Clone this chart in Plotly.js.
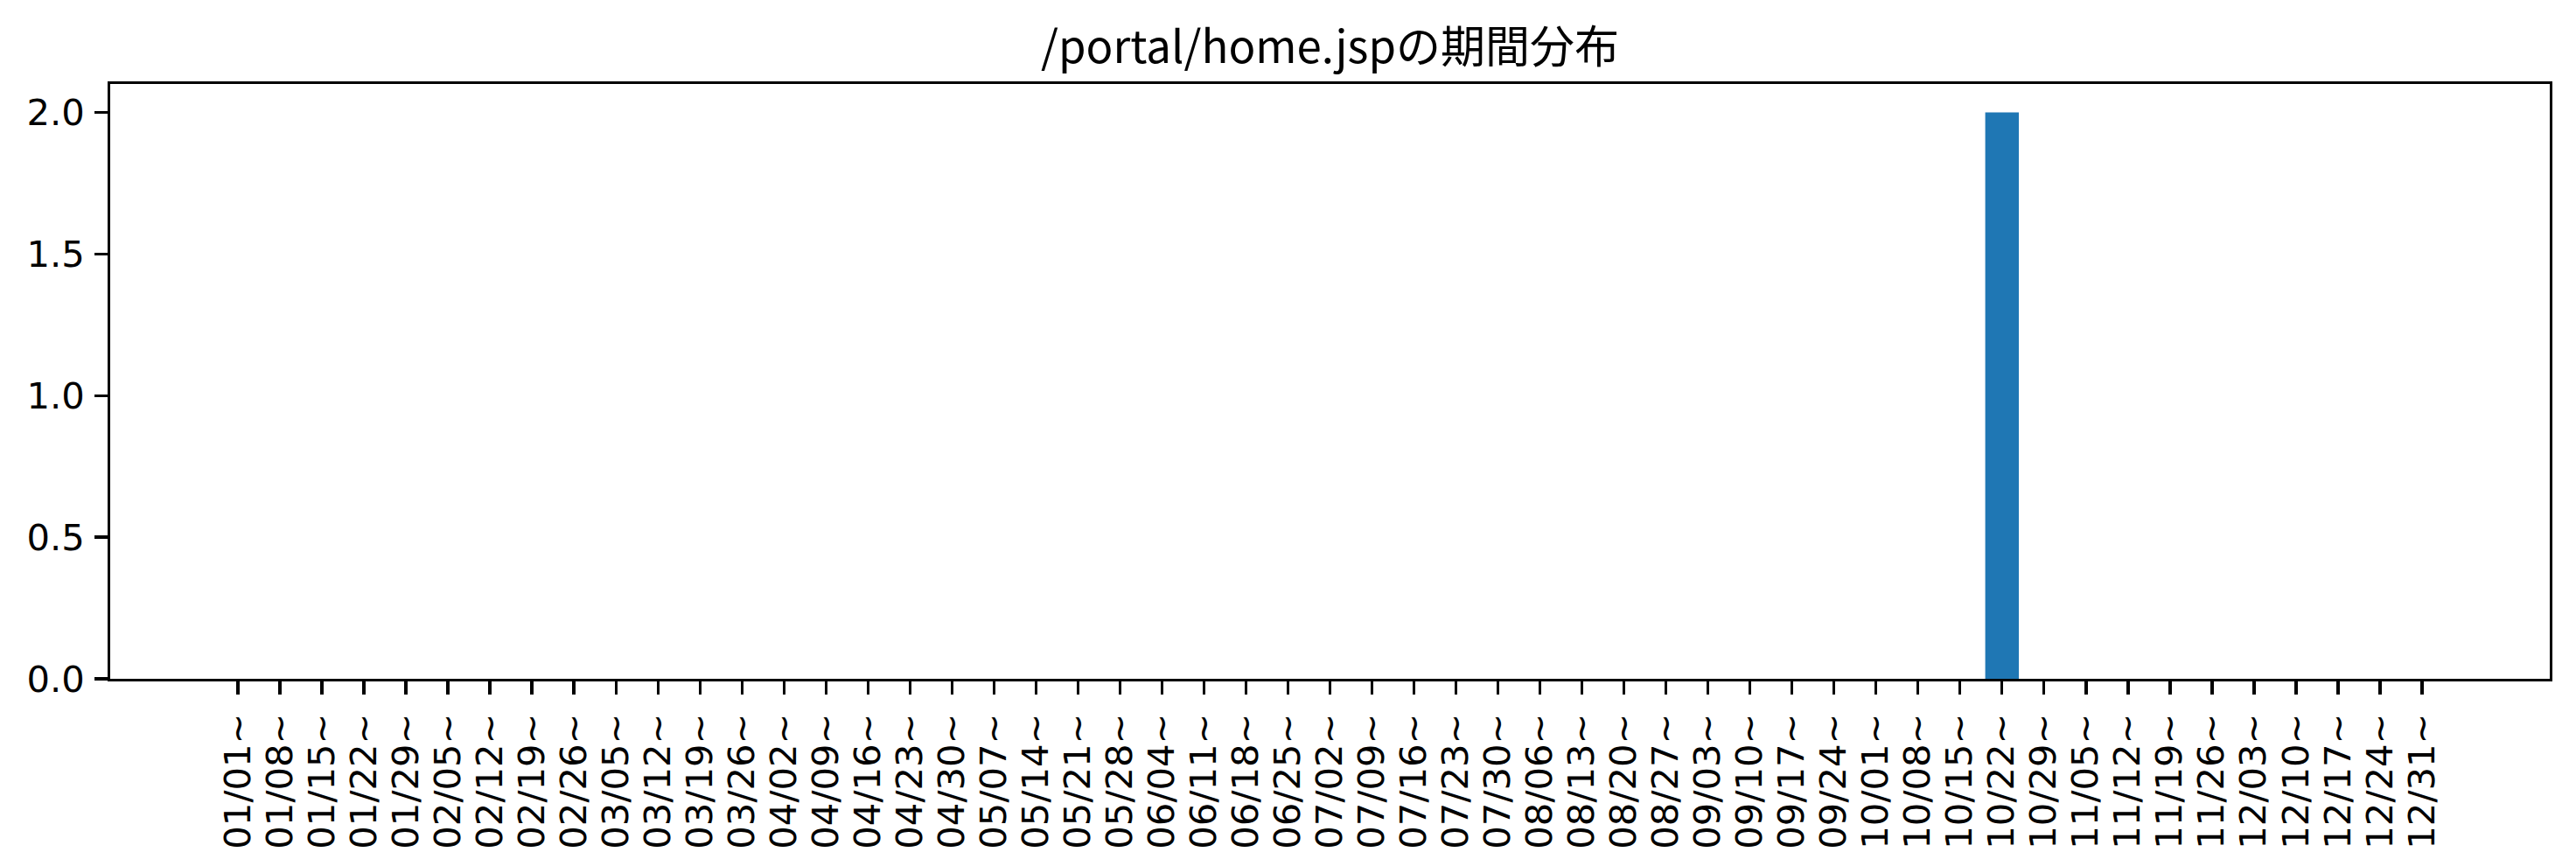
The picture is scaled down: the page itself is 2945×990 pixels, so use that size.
<!DOCTYPE html>
<html>
<head>
<meta charset="utf-8">
<script src="https://cdn.plot.ly/plotly-3.0.1.min.js"></script>
<style>
html, body { margin: 0; padding: 0; background: #ffffff; }
#chart { width: 2945px; height: 990px; }
</style>
</head>
<body>
<div id="chart"></div>
<script>
var weekLabels = [
  "01/01~", "01/08~", "01/15~", "01/22~", "01/29~",
  "02/05~", "02/12~", "02/19~", "02/26~",
  "03/05~", "03/12~", "03/19~", "03/26~",
  "04/02~", "04/09~", "04/16~", "04/23~", "04/30~",
  "05/07~", "05/14~", "05/21~", "05/28~",
  "06/04~", "06/11~", "06/18~", "06/25~",
  "07/02~", "07/09~", "07/16~", "07/23~", "07/30~",
  "08/06~", "08/13~", "08/20~", "08/27~",
  "09/03~", "09/10~", "09/17~", "09/24~",
  "10/01~", "10/08~", "10/15~", "10/22~", "10/29~",
  "11/05~", "11/12~", "11/19~", "11/26~",
  "12/03~", "12/10~", "12/17~", "12/24~", "12/31~"
];
var accessCounts = [
  0, 0, 0, 0, 0,
  0, 0, 0, 0,
  0, 0, 0, 0,
  0, 0, 0, 0, 0,
  0, 0, 0, 0,
  0, 0, 0, 0,
  0, 0, 0, 0, 0,
  0, 0, 0, 0,
  0, 0, 0, 0,
  0, 0, 0, 2, 0,
  0, 0, 0, 0,
  0, 0, 0, 0, 0
];
var yTickValues = [0, 0.5, 1.0, 1.5, 2.0];
var chartTitle = "/portal/home.jspの期間分布";

var n = weekLabels.length;
var trace = {
  type: "bar",
  x: weekLabels,
  y: accessCounts,
  marker: { color: "#1f77b4", line: { width: 0 } },
  hoverinfo: "x+y"
};

var tickFont = { family: "DejaVu Sans, sans-serif", size: 41.7, color: "#000000" };

var layout = {
  width: 2945,
  height: 990,
  paper_bgcolor: "#ffffff",
  plot_bgcolor: "#ffffff",
  margin: { l: 126, r: 30, t: 96, b: 214, pad: 0 },
  showlegend: false,
  bargap: 0.2,
  title: {
    text: chartTitle,
    font: { family: "Noto Sans CJK JP", size: 51, color: "#000000" },
    x: 0.5,
    xref: "paper",
    xanchor: "center",
    y: 1,
    yref: "paper",
    yanchor: "bottom",
    pad: { b: 24 }
  },
  xaxis: {
    type: "category",
    range: [-3.04, (n - 1) + 3.04],
    tickmode: "array",
    tickvals: weekLabels,
    ticktext: weekLabels,
    showgrid: false,
    zeroline: false,
    showline: true,
    mirror: true,
    linecolor: "#000000",
    linewidth: 3.3,
    ticks: "outside",
    ticklen: 14.6,
    tickwidth: 3.3,
    tickcolor: "#000000",
    tickangle: -90,
    tickfont: tickFont,
    ticklabelstandoff: 5,
    fixedrange: true
  },
  yaxis: {
    range: [0, 2.1],
    tickvals: yTickValues,
    tickformat: ".1f",
    showgrid: false,
    zeroline: false,
    showline: true,
    mirror: true,
    linecolor: "#000000",
    linewidth: 3.3,
    ticks: "outside",
    ticklen: 14.6,
    tickwidth: 3.3,
    tickcolor: "#000000",
    tickfont: tickFont,
    ticklabelstandoff: 3,
    fixedrange: true
  }
};

Plotly.newPlot("chart", [trace], layout, { displayModeBar: false, staticPlot: true });
</script>
</body>
</html>
